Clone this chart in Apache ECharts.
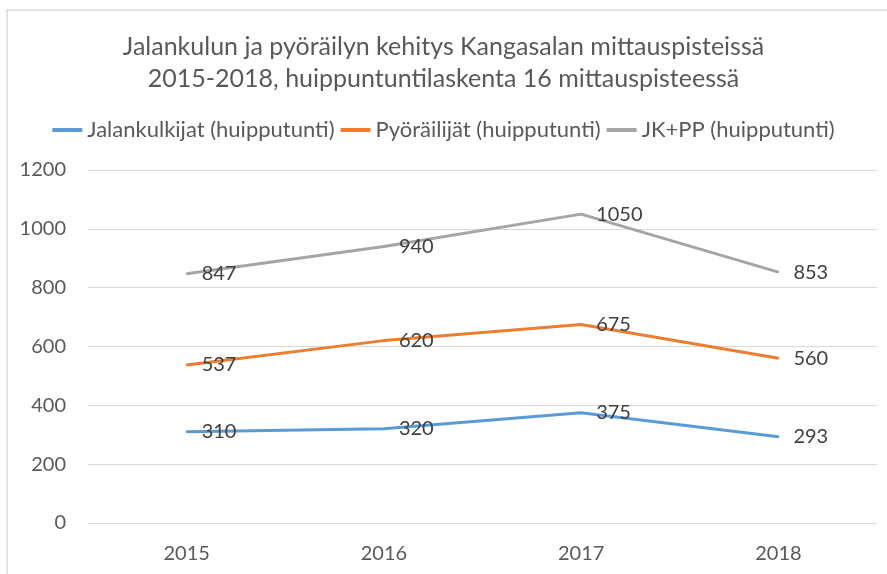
<!DOCTYPE html>
<html><head><meta charset="utf-8">
<script src="https://cdn.jsdelivr.net/npm/echarts@6/dist/echarts.min.js"></script>
<style>html,body{margin:0;padding:0;background:#fff}#c{width:887px;height:574px}</style>
</head><body><div id="c"></div>
<script>
const categories = ['2015', '2016', '2017', '2018'];
const walkers = [310, 320, 375, 293];
const cyclists = [537, 620, 675, 560];
const total = [847, 940, 1050, 853];
const seriesNames = ['Jalankulkijat (huipputunti)', 'Pyöräilijät (huipputunti)', 'JK+PP (huipputunti)'];
const titleText = 'Jalankulun ja pyöräilyn kehitys Kangasalan mittauspisteissä\n2015-2018, huippuntuntilaskenta 16 mittauspisteessä';
const yTicks = {min: 0, max: 1200, interval: 200};

const FONT = 'Lato';
const chart = echarts.init(document.getElementById('c'), null, {renderer: 'canvas'});
function mk(name, data, color) {
  return {
    name, type: 'line', data, symbol: 'circle', symbolSize: 2, showSymbol: true, smooth: false,
    lineStyle: {color, width: 3}, itemStyle: {color},
    label: {show: true, position: 'right', distance: 14, offset: [0, 2], color: '#404040', fontSize: 20, fontFamily: FONT},
    labelLayout: {hideOverlap: false},
    emphasis: {disabled: true}
  };
}
chart.setOption({
  animation: false,
  textStyle: {fontFamily: FONT},
  graphic: [{type: 'rect', shape: {x: 7, y: 10, width: 900, height: 600}, style: {fill: 'none', stroke: '#d9d9d9', lineWidth: 1.5}, silent: true}],
  title: {text: titleText, left: 'center', top: 26, textStyle: {fontSize: 25, fontWeight: 'normal', color: '#595959', lineHeight: 32, fontFamily: FONT}},
  legend: {top: 114, left: 'center', itemWidth: 30, itemHeight: 4, itemGap: 6, icon: 'rect',
    textStyle: {fontSize: 22, color: '#595959', fontFamily: FONT}, data: seriesNames},
  grid: {left: 88, right: 10, top: 170, bottom: 51, containLabel: false},
  xAxis: {type: 'category', data: categories, boundaryGap: true,
    axisLine: {show: false}, axisTick: {show: false},
    axisLabel: {fontSize: 20, color: '#595959', margin: 21, fontFamily: FONT}},
  yAxis: {type: 'value', min: yTicks.min, max: yTicks.max, interval: yTicks.interval,
    axisLine: {show: false}, axisTick: {show: false},
    axisLabel: {fontSize: 20, color: '#595959', margin: 22, fontFamily: FONT, formatter: v => String(v)},
    splitLine: {lineStyle: {color: '#d9d9d9', width: 1}}},
  series: [mk(seriesNames[0], walkers, '#5B9BD5'), mk(seriesNames[1], cyclists, '#ED7D31'), mk(seriesNames[2], total, '#A5A5A5')]
});
</script></body></html>
